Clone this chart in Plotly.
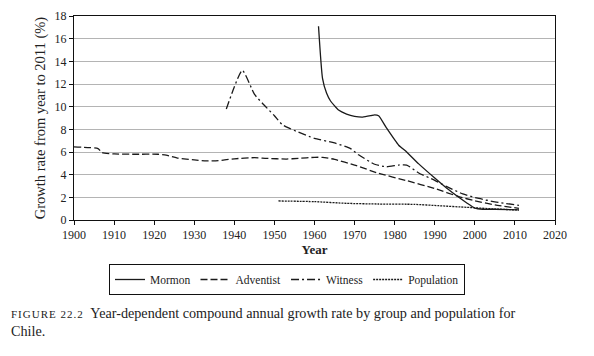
import plotly.graph_objects as go

mormon_years = [1961, 1962, 1963, 1964, 1966, 1968, 1970, 1972, 1974, 1975, 1976, 1978, 1981, 1983, 1986, 1990, 1993, 1996, 1998, 2000, 2002, 2005, 2011]
mormon_vals = [17.1, 12.5, 11.2, 10.5, 9.7, 9.35, 9.15, 9.08, 9.2, 9.28, 9.2, 8.1, 6.6, 6.0, 4.95, 3.7, 2.8, 2.0, 1.5, 1.05, 0.95, 0.95, 0.9]

adventist_years = [1900, 1906, 1907, 1910, 1915, 1921, 1923, 1926, 1930, 1933, 1936, 1940, 1945, 1948, 1953, 1956, 1960, 1962, 1965, 1970, 1976, 1983, 1990, 1996, 2000, 2005, 2011]
adventist_vals = [6.45, 6.3, 5.95, 5.83, 5.8, 5.8, 5.72, 5.45, 5.3, 5.21, 5.24, 5.4, 5.5, 5.44, 5.38, 5.44, 5.53, 5.53, 5.35, 4.85, 4.12, 3.47, 2.78, 2.06, 1.7, 1.33, 1.03]

witness_years = [1938, 1942, 1945, 1947, 1950, 1952, 1954, 1956, 1960, 1965, 1969, 1971, 1975, 1978, 1981, 1983, 1986, 1990, 1993, 1997, 2001, 2005, 2011]
witness_vals = [9.8, 13.2, 11.1, 10.3, 9.2, 8.4, 8.05, 7.75, 7.2, 6.8, 6.3, 5.75, 4.92, 4.7, 4.85, 4.85, 4.15, 3.5, 2.95, 2.3, 1.9, 1.6, 1.3]

population_years = [1951, 1960, 1968, 1976, 1985, 1991, 1998, 2005, 2011]
population_vals = [1.68, 1.62, 1.47, 1.41, 1.38, 1.26, 1.12, 0.97, 0.88]

x_ticks = list(range(1900, 2021, 10))
y_ticks = list(range(0, 19, 2))

FONT = "Liberation Serif, Times New Roman, serif"

# page body has an 8px default margin; figure is sized/offset to compensate
W, H = 586, 348

fig = go.Figure()
series = [
    ("Mormon", mormon_years, mormon_vals, "solid"),
    ("Adventist", adventist_years, adventist_vals, "7px,3px"),
    ("Witness", witness_years, witness_vals, "8px,3px,2px,3px"),
    ("Population", population_years, population_vals, "2px,1px"),
]
for name, xs, ys, dash in series:
    fig.add_trace(go.Scatter(
        x=xs, y=ys, name=name, mode="lines",
        line=dict(color="#1a1a1a", width=1.3, dash=dash, shape="spline", smoothing=0.5),
    ))

fig.update_layout(
    width=W, height=H,
    margin=dict(l=66, r=39, t=8, b=136, autoexpand=False),
    paper_bgcolor="white", plot_bgcolor="white",
    font=dict(family=FONT, size=12, color="#222"),
    showlegend=True,
    legend=dict(
        orientation="h", xref="container", yref="container",
        x=101 / W, xanchor="left", y=1 - 256 / H, yanchor="top",
        bordercolor="#111", borderwidth=1, font=dict(family=FONT, size=11.5),
        itemwidth=30, tracegroupgap=0,
    ),
)
fig.update_xaxes(
    range=[1900, 2020], tickvals=x_ticks, ticktext=[str(t) for t in x_ticks],
    showline=True, linecolor="#111", linewidth=1, mirror=True,
    ticks="outside", ticklen=4, tickcolor="#111",
    showgrid=False, zeroline=False, automargin=False,
    title=dict(text="<b>Year</b>", font=dict(family=FONT, size=13), standoff=2),
    tickfont=dict(family=FONT, size=12),
)
fig.update_yaxes(
    range=[0, 18], tickvals=y_ticks,
    showline=True, linecolor="#111", linewidth=1, mirror=True,
    ticks="outside", ticklen=4, tickcolor="#111",
    showgrid=True, gridcolor="#b4b4b4", gridwidth=1, zeroline=False, automargin=False,
    title=dict(text="Growth rate from year to 2011 (%)", font=dict(family=FONT, size=14.5), standoff=5),
    tickfont=dict(family=FONT, size=12),
)

fig.add_annotation(
    xref="paper", yref="paper", x=-0.135, y=-0.407, xanchor="left", yanchor="top",
    align="left", showarrow=False,
    text="<span style='font-size:11px;letter-spacing:1px'>FIGURE 22.2</span>  Year-dependent compound annual growth rate by group and population for<br>Chile.",
    font=dict(family=FONT, size=14.2, color="#222"),
)

fig.write_html("out.html")
